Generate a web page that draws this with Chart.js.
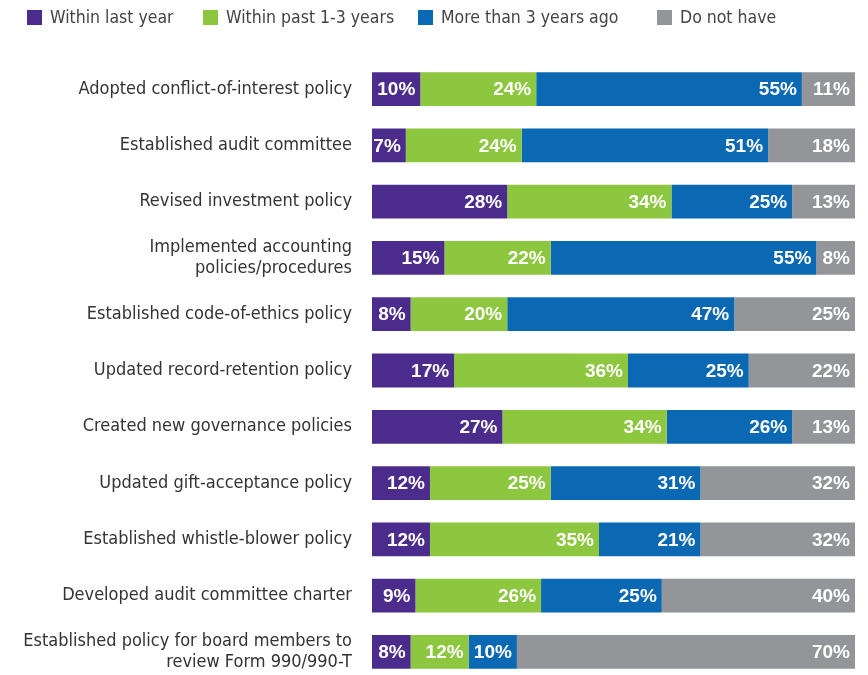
<!DOCTYPE html>
<html>
<head>
<meta charset="utf-8">
<script src="https://cdn.jsdelivr.net/npm/chart.js@4/dist/chart.umd.min.js"></script>
<style>
  html, body { margin: 0; padding: 0; background: #fff; overflow: hidden; }
  #wrap { position: relative; width: 868px; height: 675px; overflow: hidden; }
  #legend { position: absolute; left: 0; top: 0; width: 868px; height: 40px; }
  .item { position: absolute; top: 7px; font: 17.5px "DejaVu Sans Condensed", sans-serif; color: #444; white-space: nowrap; }
  .item span.box { display: inline-block; width: 15px; height: 15px; margin-right: 8px; vertical-align: -2px; }
</style>
</head>
<body>
<div id="wrap">
  <div id="legend"></div>
  <canvas id="chart" width="868" height="680"></canvas>
</div>
<script>
var categories = [
  'Adopted conflict-of-interest policy',
  'Established audit committee',
  'Revised investment policy',
  ['Implemented accounting', 'policies/procedures'],
  'Established code-of-ethics policy',
  'Updated record-retention policy',
  'Created new governance policies',
  'Updated gift-acceptance policy',
  'Established whistle-blower policy',
  'Developed audit committee charter',
  ['Established policy for board members to', 'review Form 990/990-T']
];
var seriesNames = ['Within last year', 'Within past 1-3 years', 'More than 3 years ago', 'Do not have'];
var withinLastYear = [10, 7, 28, 15, 8, 17, 27, 12, 12, 9, 8];
var withinPast13 = [24, 24, 34, 22, 20, 36, 34, 25, 35, 26, 12];
var moreThan3 = [55, 51, 25, 55, 47, 25, 26, 31, 21, 25, 10];
var doNotHave = [11, 18, 13, 8, 25, 22, 13, 32, 32, 40, 70];

var colors = ['#4b2c8c', '#8dc63f', '#0b69b4', '#939598'];
var legendLeft = [27, 203, 418, 657];

// legend
var legend = document.getElementById('legend');
seriesNames.forEach(function (name, i) {
  var d = document.createElement('div');
  d.className = 'item';
  d.style.left = legendLeft[i] + 'px';
  d.innerHTML = '<span class="box" style="background:' + colors[i] + '"></span>' + name;
  legend.appendChild(d);
});

// draws the percentage inside the end of each segment
var valueLabels = {
  id: 'valueLabels',
  afterDatasetsDraw: function (chart) {
    var ctx = chart.ctx;
    ctx.save();
    ctx.font = 'bold 19px "Liberation Sans", Arial, sans-serif';
    ctx.fillStyle = '#fff';
    ctx.textAlign = 'right';
    ctx.textBaseline = 'middle';
    chart.data.datasets.forEach(function (ds, di) {
      var meta = chart.getDatasetMeta(di);
      meta.data.forEach(function (bar, i) {
        ctx.fillText(ds.data[i] + '%', bar.x - 5, bar.y + 1);
      });
    });
    ctx.restore();
  }
};

var data = [withinLastYear, withinPast13, moreThan3, doNotHave];

new Chart(document.getElementById('chart'), {
  type: 'bar',
  data: {
    labels: categories,
    datasets: seriesNames.map(function (name, i) {
      return {
        label: name,
        data: data[i],
        backgroundColor: colors[i],
        borderWidth: 0,
        barPercentage: 0.6,
        categoryPercentage: 1
      };
    })
  },
  options: {
    indexAxis: 'y',
    responsive: false,
    animation: false,
    layout: { padding: { top: 61, right: 13, bottom: 0, left: 0 } },
    plugins: {
      legend: { display: false },
      tooltip: { enabled: false }
    },
    scales: {
      x: { stacked: true, min: 0, max: 100, display: false },
      y: {
        stacked: true,
        grid: { display: false, drawTicks: false },
        border: { display: false },
        afterFit: function (scale) {
          scale.width = 372;
          scale.paddingTop = 0;
          scale.paddingBottom = 0;
        },
        ticks: {
          color: '#333',
          padding: 20,
          font: { family: '"DejaVu Sans Condensed", sans-serif', size: 18, lineHeight: 1.15 }
        }
      }
    }
  },
  plugins: [valueLabels]
});
</script>
</body>
</html>
